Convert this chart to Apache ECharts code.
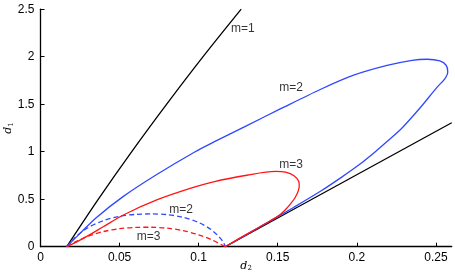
<!DOCTYPE html>
<html><head><meta charset="utf-8">
<script src="https://cdn.jsdelivr.net/npm/echarts@6/dist/echarts.min.js"></script>
<style>html,body{margin:0;padding:0;background:#fff}#c{width:455px;height:273px}</style>
</head><body><div id="c"></div>
<script>
// [d2, d1] points
const m1Line = [[0.0166,0],[0.0366,0.5],[0.0577,1.0],[0.0798,1.5],[0.1028,2.0],[0.1269,2.5]];
const boundLine = [[0.1168,0],[0.26,1.305]];
const m2Loop = [[0.0166,0],[0.025,0.14],[0.0356,0.31],[0.0524,0.53],[0.0735,0.76],[0.0978,1.0],[0.1094,1.1],[0.1305,1.275],[0.1516,1.45],[0.1769,1.655],[0.198,1.805],[0.2191,1.908],[0.235,1.962],[0.2444,1.973],[0.2525,1.955],[0.2565,1.91],[0.2575,1.84],[0.2555,1.765],[0.2508,1.68],[0.2402,1.465],[0.2286,1.25],[0.22,1.12],[0.2117,1.0],[0.2012,0.859],[0.19,0.727],[0.177,0.583],[0.16,0.413],[0.14,0.22],[0.1168,0]];
const m3Loop = [[0.0166,0],[0.0271,0.088],[0.0397,0.21],[0.0524,0.334],[0.0735,0.492],[0.0946,0.613],[0.1094,0.683],[0.1305,0.752],[0.1484,0.792],[0.155,0.785],[0.1605,0.745],[0.1632,0.69],[0.1636,0.64],[0.1611,0.52],[0.156,0.41],[0.1516,0.34],[0.145,0.27],[0.135,0.175],[0.126,0.09],[0.1168,0]];
const m2Dashed = [[0.0166,0],[0.022,0.1],[0.03,0.2],[0.04,0.275],[0.05,0.32],[0.06,0.34],[0.07,0.345],[0.08,0.338],[0.09,0.31],[0.1,0.255],[0.107,0.19],[0.112,0.12],[0.1155,0.05],[0.1168,0]];
const m3Dashed = [[0.0166,0],[0.022,0.05],[0.03,0.11],[0.04,0.16],[0.05,0.19],[0.06,0.203],[0.07,0.205],[0.08,0.195],[0.09,0.17],[0.1,0.125],[0.108,0.075],[0.1168,0]];
const labelTexts = ['m=1','m=2','m=3','m=2','m=3'];
const labelPos = [[0.128,2.30],[0.1585,1.67],[0.1585,0.86],[0.0889,0.386],[0.0684,0.102]];
const xTicks = [0,0.05,0.1,0.15,0.2,0.25];
const yTicks = [0,0.5,1,1.5,2,2.5];

const BLUE = '#3048ff', RED = '#ff1515', BLACK = '#000';
function line(data, color, dashed) {
  return {type:'line', data, showSymbol:false, symbol:'none', smooth:0.3, clip:true,
    lineStyle:{color, width:1.3, type: dashed ? [5,3] : 'solid'}, z:2};
}
const chart = echarts.init(document.getElementById('c'), null, {renderer:'canvas'});
const font = 'Liberation Sans, Arial, Helvetica, sans-serif';
const rich = {i:{fontFamily:'DejaVu Serif, serif', fontStyle:'italic', fontSize:11, color:BLACK},
      s:{fontFamily:'DejaVu Serif, serif', fontSize:7, color:BLACK, padding:[5,0,0,0]}};
chart.setOption({
  animation:false,
  grid:{left:40.5, right:3.3, top:9.2, bottom:26.3, containLabel:false, outerBoundsMode:'none'},
  xAxis:{type:'value', min:0, max:0.26,
    axisLine:{show:true, lineStyle:{color:BLACK, width:1.3}},
    axisTick:{inside:true, length:4, customValues:xTicks, lineStyle:{color:BLACK}},
    axisLabel:{customValues:xTicks, color:BLACK, fontSize:12, fontFamily:font, margin:5,
      formatter:v=>String(+v.toFixed(2))},
    splitLine:{show:false},
    name:'{i|d}{s|2}', nameLocation:'middle', nameGap:13, nameMoveOverlap:false, nameTextStyle:{rich}
  },
  yAxis:{type:'value', min:0, max:2.5, interval:0.5,
    axisLine:{show:true, lineStyle:{color:BLACK, width:1.3}},
    axisTick:{show:true, inside:true, length:4, customValues:yTicks, lineStyle:{color:BLACK}},
    axisLabel:{customValues:yTicks, color:BLACK, fontSize:12, fontFamily:font, margin:6},
    splitLine:{show:false},
    name:'{i|d}{s|1}', nameLocation:'middle', nameGap:26, nameRotate:90, nameMoveOverlap:false, nameTextStyle:{rich}
  },
  series:[
    line(m1Line, BLACK),
    line(boundLine, BLACK),
    line(m2Loop, BLUE),
    line(m3Loop, RED),
    line(m2Dashed, BLUE, true),
    line(m3Dashed, RED, true),
    {type:'scatter', symbolSize:0, z:5,
      data: labelPos.map((p,i)=>({value:p, name:labelTexts[i]})),
      label:{show:true, position:'inside', formatter:p=>p.name, color:BLACK, fontSize:12, fontFamily:font}}
  ]
});
</script></body></html>
